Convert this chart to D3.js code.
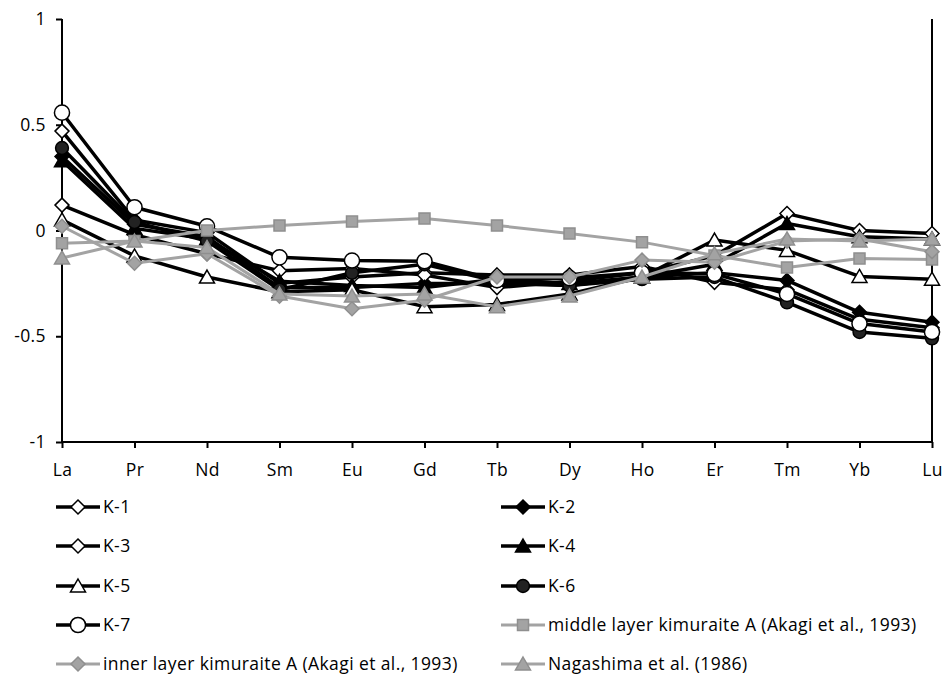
<!DOCTYPE html>
<html>
<head>
    <meta charset="utf-8">
    <title>REE pattern</title>
    <script src="https://d3js.org/d3.v7.min.js"></script>
    <style>
        body { margin: 0; background: #fff; }
        text { font-family: "Open Sans", Arial, sans-serif; font-size: 17.5px; letter-spacing: 0.4px; fill: #000; }
    </style>
</head>
<body>
    <div id="chart"></div>
    <script>
        // rare earth elements on the x axis
        var elements = ["La", "Pr", "Nd", "Sm", "Eu", "Gd", "Tb", "Dy", "Ho", "Er", "Tm", "Yb", "Lu"];
        var yTicks = [1, 0.5, 0, -0.5, -1];

        var k1 = [0.47, 0.05, -0.01, -0.25, -0.22, -0.20, -0.21, -0.21, -0.17, -0.245, -0.28, -0.42, -0.46];
        var k2 = [0.35, 0.03, -0.03, -0.27, -0.27, -0.25, -0.25, -0.26, -0.22, -0.20, -0.236, -0.387, -0.434];
        var k3 = [0.12, -0.02, -0.11, -0.19, -0.18, -0.21, -0.27, -0.24, -0.20, -0.12, 0.08, 0.0, -0.014];
        var k4 = [0.33, 0.01, -0.04, -0.24, -0.26, -0.27, -0.23, -0.25, -0.22, -0.16, 0.033, -0.03, -0.04];
        var k5 = [0.05, -0.12, -0.22, -0.29, -0.28, -0.36, -0.35, -0.30, -0.22, -0.045, -0.094, -0.217, -0.23];
        var k6 = [0.39, 0.04, -0.05, -0.28, -0.20, -0.16, -0.24, -0.26, -0.23, -0.22, -0.34, -0.48, -0.51];
        var k7 = [0.557, 0.11, 0.02, -0.127, -0.142, -0.145, -0.235, -0.225, -0.20, -0.205, -0.30, -0.44, -0.48];
        var middleLayer = [-0.06, -0.05, 0.0, 0.024, 0.042, 0.057, 0.024, -0.014, -0.055, -0.118, -0.175, -0.132, -0.137];
        var innerLayer = [0.02, -0.155, -0.11, -0.31, -0.37, -0.33, -0.22, -0.22, -0.14, -0.15, -0.05, -0.04, -0.10];
        var nagashima = [-0.13, -0.05, -0.08, -0.30, -0.31, -0.30, -0.36, -0.31, -0.22, -0.11, -0.04, -0.05, -0.04];

        var black = "#000", grey = "#a3a3a3";

        var series = [
            {name: "K-1", values: k1, shape: "diamond", fill: "#fff", color: black, col: 0, row: 0},
            {name: "K-2", values: k2, shape: "diamond", fill: "#000", color: black, col: 1, row: 0},
            {name: "K-3", values: k3, shape: "diamond", fill: "#fff", color: black, col: 0, row: 1},
            {name: "K-4", values: k4, shape: "triangle", fill: "#000", color: black, col: 1, row: 1},
            {name: "K-5", values: k5, shape: "triangle", fill: "#fff", color: black, col: 0, row: 2},
            {name: "K-6", values: k6, shape: "circle", fill: "#222", color: black, col: 1, row: 2},
            {name: "K-7", values: k7, shape: "bigcircle", fill: "#fff", color: black, col: 0, row: 3},
            {name: "middle layer kimuraite A (Akagi et al., 1993)", values: middleLayer, shape: "square", fill: grey, color: grey, col: 1, row: 3},
            {name: "inner layer kimuraite A (Akagi et al., 1993)", values: innerLayer, shape: "diamond", fill: grey, color: grey, col: 0, row: 4},
            {name: "Nagashima et al. (1986)", values: nagashima, shape: "triangle", fill: grey, color: grey, col: 1, row: 4}
        ];

        var W = 944, H = 676;
        var svg = d3.select("#chart").append("svg")
            .attr("width", W)
            .attr("height", H);

        var x = d3.scalePoint().domain(elements).range([62, 932]);
        var y = d3.scaleLinear().domain([-1, 1]).range([442, 19]);

        // axes
        var yAxis = svg.append("g")
            .attr("transform", "translate(62,0)")
            .call(d3.axisLeft(y).tickValues(yTicks).tickSize(6).tickPadding(10).tickFormat(function(d) { return String(d); }));
        var xAxis = svg.append("g")
            .attr("transform", "translate(0,442)")
            .call(d3.axisBottom(x).tickSize(6).tickPadding(16));
        [xAxis, yAxis].forEach(function(a) {
            a.select(".domain").attr("stroke", "#000").attr("stroke-width", 2);
            a.selectAll(".tick line").attr("stroke", "#000").attr("stroke-width", 2);
            a.selectAll("text").style("font-size", "17.5px").style("font-family", "'Open Sans', Arial, sans-serif");
        });
        xAxis.select(".domain").attr("d", "M62,0H932");
        yAxis.select(".domain").attr("d", "M0,19V442");

        // right frame line
        svg.append("line")
            .attr("x1", x("Lu")).attr("x2", x("Lu"))
            .attr("y1", y(1)).attr("y2", y(-1))
            .attr("stroke", "#000").attr("stroke-width", 2);

        function markerPath(shape) {
            if (shape === "diamond") return "M0,-7L7,0L0,7L-7,0Z";
            if (shape === "triangle") return "M0,-7L7.5,6L-7.5,6Z";
            if (shape === "square") return "M-5.5,-5.5H5.5V5.5H-5.5Z";
            if (shape === "circle") return d3.symbol(d3.symbolCircle, 130)();
            if (shape === "bigcircle") return d3.symbol(d3.symbolCircle, 180)();
        }

        var line = d3.line()
            .x(function(d, i) { return x(elements[i]); })
            .y(function(d) { return y(d); });

        series.forEach(function(s) {
            var g = svg.append("g");
            g.append("path")
                .attr("d", line(s.values))
                .attr("fill", "none")
                .attr("stroke", s.color)
                .attr("stroke-width", s.color === black ? 3.5 : 3)
                .attr("stroke-linejoin", "round");
            g.selectAll("path.mark")
                .data(s.values)
                .enter()
                .append("path")
                .attr("class", "mark")
                .attr("d", markerPath(s.shape))
                .attr("transform", function(d, i) { return "translate(" + x(elements[i]) + "," + y(d) + ")"; })
                .attr("fill", s.fill)
                .attr("stroke", s.color === black ? "#000" : "#8f8f8f")
                .attr("stroke-width", 1.5);
        });

        // legend
        var legendX = [56, 501], rowY = [507, 546, 586, 625, 664];
        series.forEach(function(s) {
            var lg = svg.append("g")
                .attr("transform", "translate(" + legendX[s.col] + "," + rowY[s.row] + ")");
            lg.append("line")
                .attr("x1", 0).attr("x2", 44)
                .attr("stroke", s.color)
                .attr("stroke-width", s.color === black ? 3.5 : 3);
            lg.append("path")
                .attr("d", markerPath(s.shape))
                .attr("transform", "translate(22,0)")
                .attr("fill", s.fill)
                .attr("stroke", s.color === black ? "#000" : "#8f8f8f")
                .attr("stroke-width", 1.5);
            lg.append("text")
                .attr("x", 47)
                .attr("dy", "0.35em")
                .text(s.name);
        });
    </script>
</body>
</html>
